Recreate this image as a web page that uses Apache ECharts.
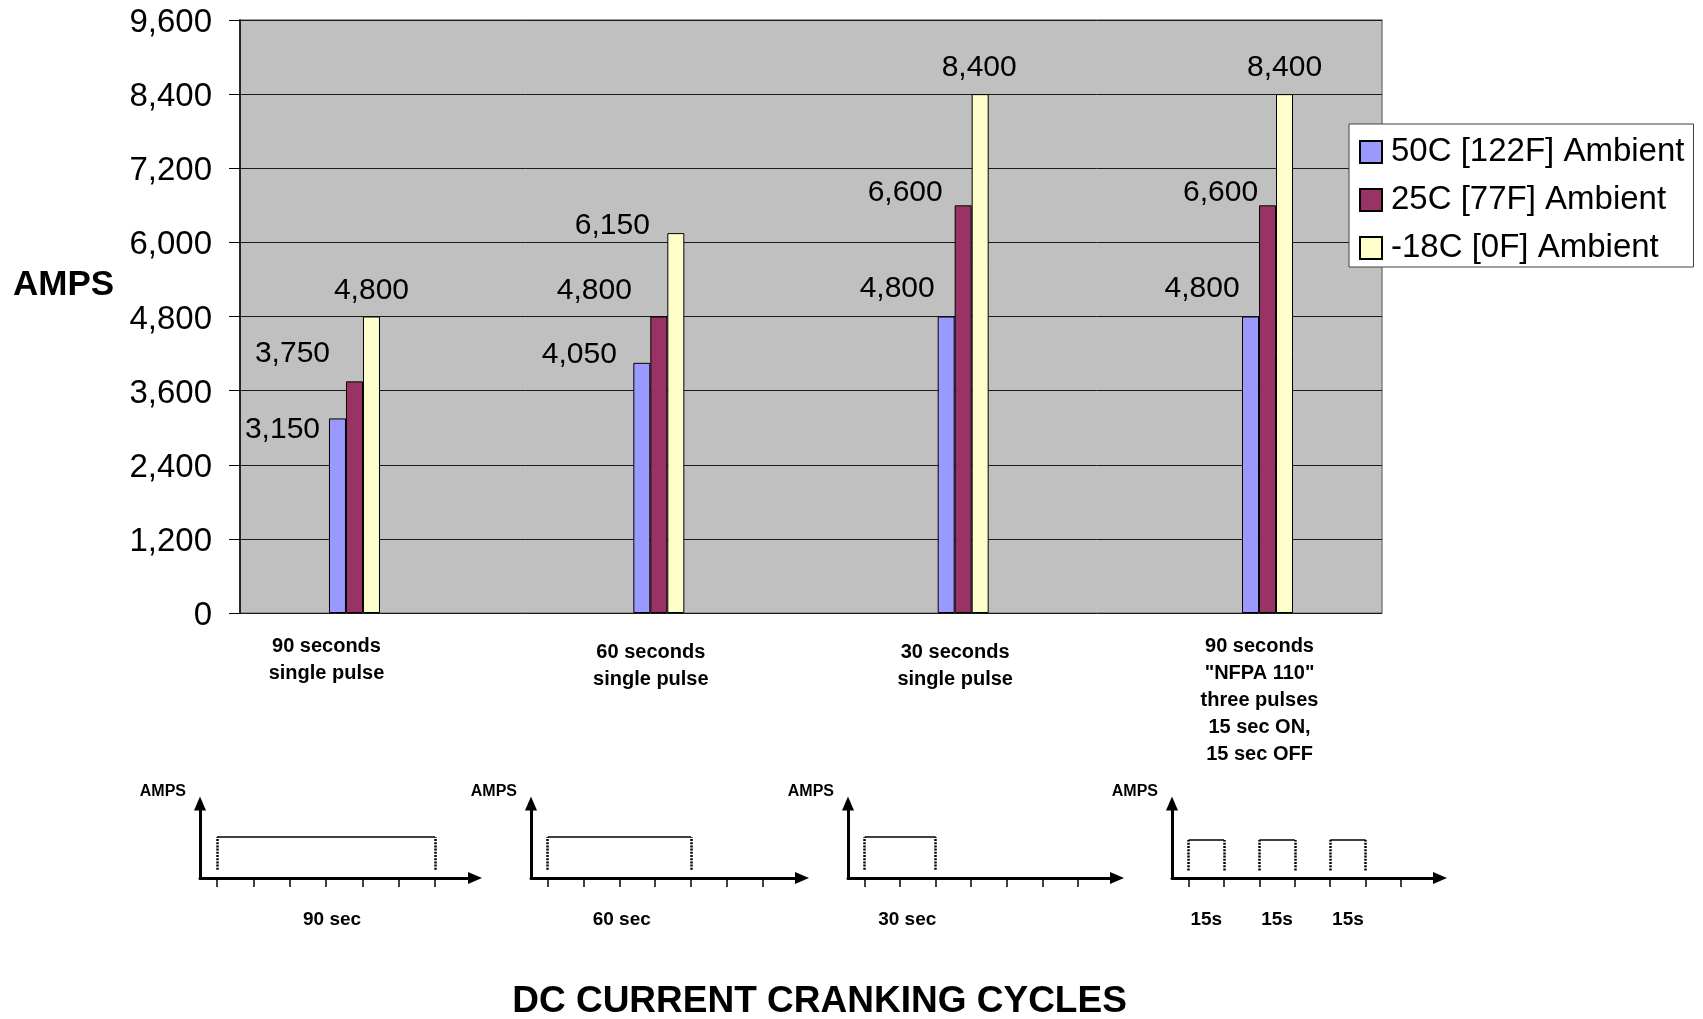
<!DOCTYPE html>
<html>
<head>
<meta charset="utf-8">
<script src="https://cdn.jsdelivr.net/npm/echarts@6/dist/echarts.min.js"></script>
<style>
html,body{margin:0;padding:0;background:#fff;}
#c{width:1703px;height:1019px;}
</style>
</head>
<body>
<div id="c"></div>
<script>
// ---------------- data ----------------
const categories = [
  '90 seconds\nsingle pulse',
  '60 seconds\nsingle pulse',
  '30 seconds\nsingle pulse',
  '90 seconds\n"NFPA 110"\nthree pulses\n15 sec ON,\n15 sec OFF'
];
const seriesNames = ['50C [122F] Ambient', '25C [77F] Ambient', '-18C [0F] Ambient'];
const amps50C = [3150, 4050, 4800, 4800];
const amps25C = [3750, 4800, 6600, 6600];
const ampsMinus18C = [4800, 6150, 8400, 8400];
const yMin = 0, yMax = 9600, yStep = 1200;
const yTitle = 'AMPS';
const xTitle = 'DC CURRENT CRANKING CYCLES';

// pulse diagrams (seconds)
const cycleTickSeconds = [0, 15, 30, 45, 60, 75, 90];
const cyclePulses = [
  [[0, 90]],
  [[0, 60]],
  [[0, 30]],
  [[0, 15], [30, 45], [60, 75]]
];
const cycleLabels = [['90 sec'], ['60 sec'], ['30 sec'], ['15s', '15s', '15s']];
const cycleYTitle = 'AMPS';

// ---------------- layout / style ----------------
const FONT = "'Liberation Sans', Arial, sans-serif";
const colors = ['#9999ff', '#993366', '#ffffcc'];
const labelOffsets = [
  [[-55, 26.5], [-62.5, 7], [-49, -12.5], [-48.5, -12.5]],
  [[-62, -12.4], [-64.5, -10.5], [-58, 2], [-47, 2]],
  [[0, -10.5], [-63.5, 8], [-1, -11.5], [0, -11.5]]
];
const catLabelPad = [[0, 56, 0, 0], [6, 16, 0, 0], [6, 16, 0, 0], [0, 16, 0, 0]];
const cycleLabelAt = [[47.5], [31], [18], [7.5, 37.5, 67.5]];
const diagramBox = [
  {left: 200, width: 275, ymax: 1.82},
  {left: 531, width: 271, ymax: 1.82},
  {left: 848, width: 269, ymax: 1.82},
  {left: 1172, width: 268, ymax: 1.96}
];
const plot = {left: 240, top: 20, width: 1142, height: 593};
const barPlot = {left: 202.3, top: 20, width: 1217.4, height: 593};

const fmt = v => Number(v).toLocaleString('en-US');
const chart = echarts.init(document.getElementById('c'), null, {renderer: 'canvas'});

const grids = [
  {left: plot.left, top: plot.top, width: plot.width, height: plot.height, show: true,
   backgroundColor: '#c0c0c0', borderColor: '#808080', borderWidth: 1.5},
  {left: barPlot.left, top: barPlot.top, width: barPlot.width, height: barPlot.height}
].concat(diagramBox.map(d => ({left: d.left, top: 803.5, width: d.width, height: 74.5})));

const xAxes = [
  {gridIndex: 0, type: 'category', data: categories, show: false},
  {gridIndex: 1, type: 'category',
   data: categories.map((c, i) => ({value: c, textStyle: {padding: catLabelPad[i]}})),
   axisLine: {show: false}, axisTick: {show: false},
   axisLabel: {interval: 0, margin: 20, fontFamily: FONT, fontSize: 20, fontWeight: 'bold',
               lineHeight: 27, color: '#000', align: 'center'}}
].concat(diagramBox.map((d, i) => ({
  gridIndex: i + 2, type: 'value', min: -7, max: 106.5,
  splitLine: {show: false},
  axisLine: {show: true, onZero: false, symbol: ['none', 'triangle'], symbolSize: [12, 14],
             lineStyle: {color: '#000', width: 3}},
  axisTick: {show: true, customValues: cycleTickSeconds, length: 9,
             lineStyle: {color: '#000', width: 1.5}},
  axisLabel: {show: true, customValues: cycleLabelAt[i], margin: 32,
              formatter: v => {
                const k = cycleLabelAt[i].indexOf(v);
                return k >= 0 ? cycleLabels[i][k] : '';
              },
              fontFamily: FONT, fontSize: 19, fontWeight: 'bold', color: '#000'}
})));

const yAxes = [
  {gridIndex: 0, type: 'value', min: yMin, max: yMax, interval: yStep,
   axisLine: {show: true, lineStyle: {color: '#000', width: 1.5}},
   axisTick: {show: true, length: 11, lineStyle: {color: '#000', width: 1}},
   axisLabel: {formatter: v => '{t|' + fmt(v) + '}', margin: 28,
               rich: {t: {fontFamily: FONT, fontSize: 33, color: '#000', padding: [6, 0, 0, 0]}}},
   splitLine: {show: true, lineStyle: {color: '#1a1a1a', width: 1}}},
  {gridIndex: 1, type: 'value', min: yMin, max: yMax, interval: yStep, show: false,
   splitLine: {show: false}}
].concat(diagramBox.map((d, i) => ({
  gridIndex: i + 2, type: 'value', min: 0, max: d.ymax,
  splitLine: {show: false},
  axisLine: {show: true, onZero: false, symbol: ['none', 'triangle'], symbolSize: [12, 14],
             lineStyle: {color: '#000', width: 3}},
  axisTick: {show: false}, axisLabel: {show: false},
  name: cycleYTitle, nameLocation: 'end', nameGap: 11.5,
  nameTextStyle: {align: 'right', verticalAlign: 'middle', padding: [0, 14, 0, 0],
                  fontFamily: FONT, fontSize: 16, fontWeight: 'bold', color: '#000'}
})));

const barSeries = [amps50C, amps25C, ampsMinus18C].map((vals, s) => ({
  type: 'bar', name: seriesNames[s], xAxisIndex: 1, yAxisIndex: 1,
  barWidth: 17, barGap: '0%',
  itemStyle: {color: colors[s], borderColor: '#000', borderWidth: 1},
  label: {show: true, position: 'top', distance: 0, formatter: p => fmt(p.value),
          fontFamily: FONT, fontSize: 30, lineHeight: 30, color: '#000'},
  data: vals.map((v, i) => ({value: v, label: {offset: labelOffsets[s][i]}}))
}));

const pulseSeries = [];
cyclePulses.forEach((pulses, i) => {
  pulseSeries.push({
    type: 'lines', coordinateSystem: 'cartesian2d', xAxisIndex: i + 2, yAxisIndex: i + 2,
    lineStyle: {color: '#000', width: 1.5, opacity: 1}, silent: true,
    data: pulses.map(([s, e]) => ({coords: [[s, 1], [e, 1]]}))
  });
  pulseSeries.push({
    type: 'lines', coordinateSystem: 'cartesian2d', xAxisIndex: i + 2, yAxisIndex: i + 2,
    lineStyle: {color: '#000', width: 2.5, type: [2, 1.2], opacity: 1}, silent: true,
    data: pulses.flatMap(([s, e]) => [
      {coords: [[s, 0.2], [s, 1]]},
      {coords: [[e, 0.2], [e, 1]]}
    ])
  });
});

chart.setOption({
  animation: false,
  backgroundColor: '#fff',
  textStyle: {fontFamily: FONT},
  grid: grids,
  xAxis: xAxes,
  yAxis: yAxes,
  legend: {
    orient: 'vertical', left: 1349, top: 124, data: seriesNames, icon: 'rect',
    itemWidth: 22, itemHeight: 22, itemGap: 12, padding: [10, 9, 1, 10],
    backgroundColor: '#fff', borderColor: '#404040', borderWidth: 1,
    textStyle: {fontFamily: FONT, fontSize: 33, lineHeight: 36, color: '#000', padding: [0, 0, 0, 4]}
  },
  graphic: [
    {type: 'text', x: 13, y: 285,
     style: {text: yTitle, font: "bold 35px 'Liberation Sans', Arial, sans-serif",
             fill: '#000', align: 'left', verticalAlign: 'middle'}},
    {type: 'text', x: 819.5, y: 1002,
     style: {text: xTitle, font: "bold 37px 'Liberation Sans', Arial, sans-serif",
             fill: '#000', align: 'center', verticalAlign: 'middle'}}
  ],
  series: barSeries.concat(pulseSeries)
});
</script>
</body>
</html>
